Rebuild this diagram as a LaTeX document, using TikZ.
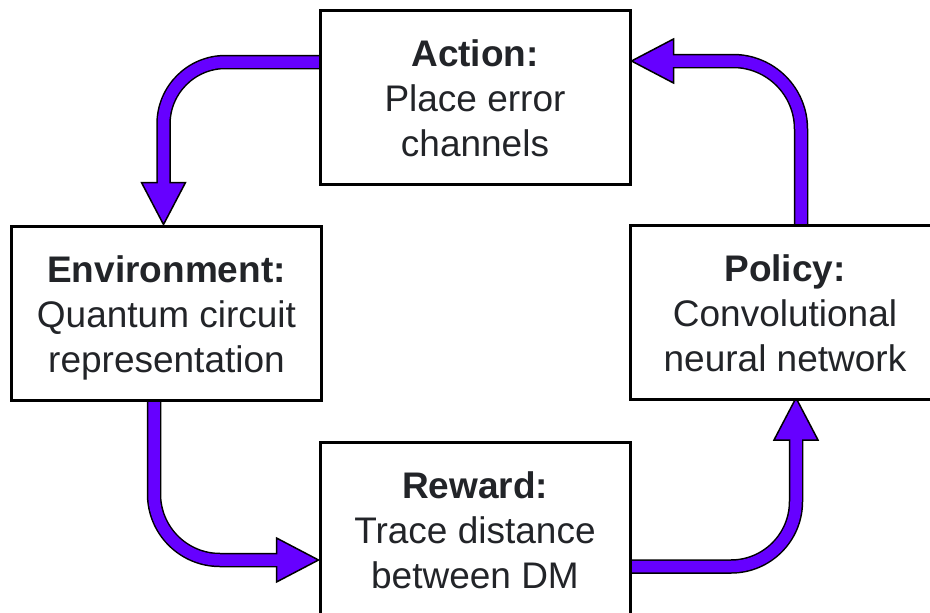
\documentclass[tikz,border=0pt]{standalone}
\usepackage{fontspec}
\setmainfont{Liberation Sans}
\usetikzlibrary{calc,backgrounds}

\definecolor{flowpurple}{RGB}{102,0,255}
\definecolor{labelgrey}{RGB}{34,36,40}

% fixed-height line so every box has the same baseline layout
\newcommand\lnstrut{\rule[-8.5pt]{0pt}{45pt}}

% bent block arrow: start, corner, tip, corner radius
\newcommand\flowarrow[4]{%
  \coordinate (hb) at ($(#3)!42pt!(#2)$);
  \coordinate (hc) at ($(#3)!40pt!(#2)$);
  \filldraw[fill=flowpurple,draw=black,line width=1.5pt,line join=miter]
    (#3) -- ($(hb)!22pt!90:(#3)$) -- ($(hb)!22pt!-90:(#3)$) -- cycle;
  \draw[black,line width=14.5pt,rounded corners=#4] (#1) -- (#2) -- (hb);
  \draw[flowpurple,line width=11.5pt,rounded corners=#4] (#1) -- (#2) -- (hc);
}

\tikzset{
  stagebox/.style={draw=black,fill=white,line width=3pt,line join=miter,
    minimum width=310pt,minimum height=174pt,inner sep=0pt,outer sep=0pt,
    align=center,text=labelgrey,font=\fontsize{37}{45}\selectfont},
}

\begin{document}
\begin{tikzpicture}[x=1pt,y=-1pt]
\useasboundingbox (0,0) rectangle (930,613);

\node[stagebox] (act) at (475,97.5)
  {{\bfseries\lnstrut Action:}\\\lnstrut Place error\\\lnstrut channels};
\node[stagebox] (env) at (166.5,313)
  {{\bfseries\lnstrut Environment:}\\\lnstrut Quantum circuit\\\lnstrut representation};
\node[stagebox] (pol) at (785,312.5)
  {{\bfseries\lnstrut Policy:}\\\lnstrut Convolutional\\\lnstrut neural network};
\node[stagebox] (rew) at (475,529.5)
  {{\bfseries\lnstrut Reward:}\\\lnstrut Trace distance\\\lnstrut between DM};

\begin{pgfonlayer}{background}
  \fill[white] (0,0) rectangle (930,613);

  % action -> environment
  \coordinate (sA) at ($(act.west)+(0,-35.5)$);
  \coordinate (tA) at ($(env.north)+(-3,-1.5)$);
  \flowarrow{sA}{tA |- sA}{tA}{62pt}

  % policy -> action
  \coordinate (sB) at ($(pol.north)+(16,0)$);
  \coordinate (tB) at ($(act.east)+(1.5,-36.5)$);
  \flowarrow{sB}{sB |- tB}{tB}{68pt}

  % environment -> reward
  \coordinate (sC) at ($(env.south)+(-12.5,0)$);
  \coordinate (tC) at ($(rew.west)+(-1.5,30.5)$);
  \flowarrow{sC}{sC |- tC}{tC}{66pt}

  % reward -> policy
  \coordinate (sD) at ($(rew.east)+(0,37)$);
  \coordinate (tD) at ($(pol.south)+(11,-1.5)$);
  \flowarrow{sD}{tD |- sD}{tD}{65pt}
\end{pgfonlayer}
\end{tikzpicture}
\end{document}
